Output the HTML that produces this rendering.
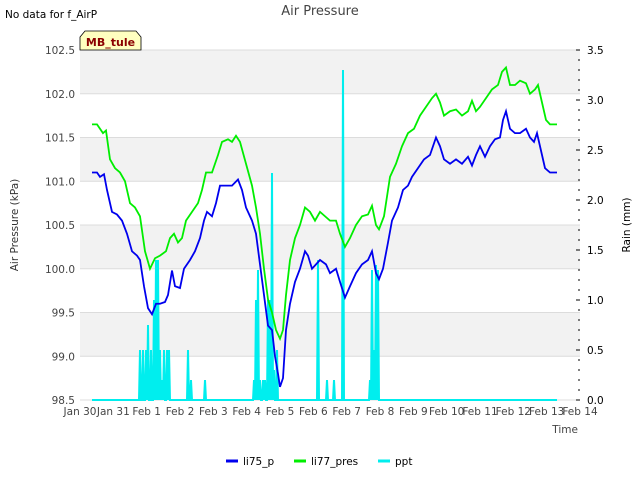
<!DOCTYPE html>
<html><head><meta charset="utf-8"><style>
body{margin:0;background:#fff;font-family:"Liberation Sans","DejaVu Sans",sans-serif}
svg text{font-family:"DejaVu Sans","Liberation Sans",sans-serif}
</style></head><body>
<svg id="c" width="640" height="480" xmlns="http://www.w3.org/2000/svg">
<text x="5" y="18" font-size="10.5" fill="#000">No data for f_AirP</text>
<text x="320" y="15" font-size="13" fill="#444" text-anchor="middle">Air Pressure</text>
<g id="plot"></g>
<path d="M80,50 L80,37 L85,31 L136,31 L141,37 L141,50 Z" fill="#ffffc0" stroke="#000" stroke-width="0.8"/>
<text x="110.5" y="46" font-size="11" font-weight="bold" fill="#8b0000" text-anchor="middle">MB_tule</text>
<text x="18" y="225" font-size="10.5" fill="#333" text-anchor="middle" transform="rotate(-90 18 225)">Air Pressure (kPa)</text>
<text x="630" y="225" font-size="10.5" fill="#000" text-anchor="middle" transform="rotate(-90 630 225)">Rain (mm)</text>
<text x="578" y="433" font-size="10.5" fill="#444" text-anchor="end">Time</text>
<g>
<line x1="226" y1="461" x2="238" y2="461" stroke="#0000ee" stroke-width="3"/>
<text x="243" y="465" font-size="10.5">li75_p</text>
<line x1="294" y1="461" x2="306" y2="461" stroke="#00ee00" stroke-width="3"/>
<text x="311" y="465" font-size="10.5">li77_pres</text>
<line x1="378" y1="461" x2="390" y2="461" stroke="#00eeee" stroke-width="3"/>
<text x="395" y="465" font-size="10.5">ppt</text>
</g>
</svg>
<script>
const xTickLabels=["Jan 30","Jan 31","Feb 1","Feb 2","Feb 3","Feb 4","Feb 5","Feb 6","Feb 7","Feb 8","Feb 9","Feb 10","Feb 11","Feb 12","Feb 13","Feb 14"];
const yTicks=[98.5,99.0,99.5,100.0,100.5,101.0,101.5,102.0,102.5];
const y2Ticks=[0.0,0.5,1.0,1.5,2.0,2.5,3.0,3.5];
const li75Days=[0.36,0.51,0.6,0.72,0.81,0.96,1.11,1.26,1.41,1.56,1.71,1.8,1.92,2.04,2.16,2.28,2.4,2.55,2.64,2.76,2.85,3.0,3.12,3.3,3.45,3.6,3.72,3.81,3.96,4.08,4.2,4.38,4.56,4.74,4.86,4.98,5.16,5.28,5.4,5.52,5.64,5.76,5.85,5.94,6.0,6.09,6.18,6.3,6.45,6.6,6.75,6.84,6.96,7.08,7.2,7.38,7.5,7.68,7.8,7.95,8.1,8.28,8.46,8.64,8.76,8.88,8.97,9.09,9.24,9.36,9.54,9.69,9.84,9.96,10.14,10.32,10.5,10.68,10.8,10.92,11.1,11.28,11.46,11.64,11.76,11.88,12.0,12.15,12.3,12.45,12.6,12.69,12.78,12.9,13.05,13.2,13.38,13.5,13.62,13.71,13.8,13.95,14.1,14.31];
const li75Vals=[101.1,101.1,101.05,101.08,100.9,100.65,100.62,100.55,100.4,100.2,100.15,100.1,99.8,99.55,99.48,99.6,99.6,99.62,99.7,99.98,99.8,99.78,100.0,100.1,100.2,100.35,100.55,100.65,100.6,100.75,100.95,100.95,100.95,101.02,100.9,100.7,100.55,100.4,100.05,99.7,99.35,99.3,99.0,98.8,98.65,98.75,99.3,99.6,99.85,100.0,100.2,100.15,100.0,100.05,100.1,100.05,99.95,100.0,99.85,99.67,99.8,99.95,100.05,100.1,100.2,99.95,99.88,100.0,100.3,100.55,100.7,100.9,100.95,101.05,101.15,101.25,101.3,101.5,101.4,101.25,101.2,101.25,101.2,101.28,101.18,101.3,101.4,101.28,101.4,101.48,101.5,101.7,101.8,101.6,101.55,101.55,101.6,101.5,101.45,101.55,101.4,101.15,101.1,101.1];
const li77Days=[0.36,0.51,0.69,0.78,0.9,1.05,1.2,1.35,1.5,1.65,1.8,1.95,2.1,2.25,2.4,2.58,2.7,2.82,2.94,3.06,3.18,3.36,3.54,3.66,3.78,3.96,4.14,4.26,4.44,4.56,4.68,4.8,4.98,5.16,5.28,5.4,5.52,5.64,5.76,5.88,6.0,6.09,6.18,6.3,6.45,6.6,6.75,6.9,7.05,7.2,7.35,7.5,7.68,7.8,7.95,8.1,8.28,8.46,8.64,8.76,8.88,8.97,9.12,9.3,9.48,9.66,9.84,10.02,10.2,10.38,10.56,10.68,10.8,10.92,11.1,11.28,11.46,11.64,11.76,11.88,12.0,12.18,12.36,12.54,12.66,12.78,12.9,13.05,13.2,13.38,13.5,13.65,13.74,13.86,13.98,14.1,14.31];
const li77Vals=[101.65,101.65,101.55,101.58,101.25,101.15,101.1,101.0,100.75,100.7,100.6,100.2,100.0,100.12,100.15,100.2,100.35,100.4,100.3,100.35,100.55,100.65,100.75,100.9,101.1,101.1,101.3,101.45,101.48,101.45,101.52,101.45,101.2,100.95,100.7,100.4,100.0,99.65,99.5,99.3,99.2,99.3,99.7,100.1,100.35,100.5,100.7,100.65,100.55,100.65,100.6,100.55,100.55,100.4,100.25,100.35,100.5,100.6,100.62,100.72,100.5,100.45,100.6,101.05,101.2,101.4,101.55,101.6,101.75,101.85,101.95,102.0,101.9,101.75,101.8,101.82,101.75,101.8,101.92,101.8,101.85,101.95,102.05,102.1,102.25,102.3,102.1,102.1,102.15,102.12,102.0,102.05,102.1,101.9,101.7,101.65,101.65];
const pptDays=[1.8,1.89,1.98,2.04,2.13,2.22,2.28,2.34,2.4,2.46,2.52,2.61,2.67,3.24,3.33,3.75,5.22,5.28,5.34,5.4,5.49,5.55,5.64,5.7,5.76,5.82,5.91,7.14,7.41,7.62,7.89,8.7,8.76,8.82,8.88,8.94];
const pptVals=[0.5,0.5,0.5,0.75,0.5,1.0,1.4,1.4,0.5,0.2,0.5,0.5,0.5,0.5,0.2,0.2,0.2,1.0,1.3,0.2,0.2,0.2,1.0,1.0,2.27,0.3,0.5,1.4,0.2,0.2,3.3,0.2,1.3,0.5,1.35,1.3];
const pptStart=0.36, pptEnd=14.31;
const L=80,R=580,T=50,B=400;
const xs=d=>L+(R-L)*d/15;
const ys=v=>B-(B-T)*(v-98.5)/4;
const ys2=v=>B-(B-T)*v/3.5;
const NS="http://www.w3.org/2000/svg";
const g=document.getElementById('plot');
function mk(t,a){const e=document.createElementNS(NS,t);for(const k in a)e.setAttribute(k,a[k]);g.appendChild(e);return e;}
for(let i=0;i<yTicks.length-1;i++){
  const r=mk('rect',{x:L,y:ys(yTicks[i+1]),width:R-L,height:ys(yTicks[i])-ys(yTicks[i+1]),fill:(i%2==1)?'#f2f2f2':'#ffffff'});
  
  
}
yTicks.forEach(v=>{
  const l=mk('line',{x1:L,x2:R,y1:ys(v),y2:ys(v),stroke:'#dcdcdc','stroke-width':1});
  
  
  const t=mk('text',{x:L-5,y:ys(v)+4,'font-size':10.5,fill:'#444','text-anchor':'end'});
  t.textContent=v.toFixed(1);
  
  
});
y2Ticks.forEach(v=>{
  const t=mk('text',{x:R+7,y:ys2(v)+4,'font-size':10.5,fill:'#000'});
  t.textContent=v.toFixed(1);
  
  
});
for(let k=0;k<=35;k++){
  const v=k/10, big=(k%5==0);
  const l=mk('line',{x1:R-(big?4:2),x2:R,y1:ys2(v),y2:ys2(v),stroke:'#000','stroke-width':1});
  
  
}
xTickLabels.forEach((s,i)=>{
  const t=mk('text',{x:xs(i),y:B+15,'font-size':10.5,fill:'#444','text-anchor':'middle'});
  t.textContent=s;
  
  
});
// ppt line
let pts=[[xs(pptStart),ys2(0)]];
pptDays.forEach((d,i)=>{pts.push([xs(d-0.03),ys2(0)]);pts.push([xs(d),ys2(pptVals[i])]);pts.push([xs(d+0.03),ys2(0)]);});
pts.push([xs(pptEnd),ys2(0)]);
const pp=mk('polyline',{points:pts.map(p=>p.join(',')).join(' '),fill:'none',stroke:'#00eeee','stroke-width':2});


function line(days,vals,col,name){
  const p=mk('polyline',{points:days.map((d,i)=>xs(d)+','+ys(vals[i])).join(' '),fill:'none',stroke:col,'stroke-width':1.8});
  
  
}
line(li77Days,li77Vals,'#00ee00','li77-pres-series');
line(li75Days,li75Vals,'#0000ee','li75-p-series');
</script>
</body></html>
